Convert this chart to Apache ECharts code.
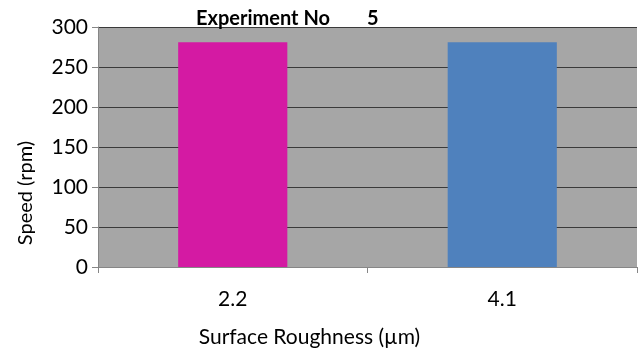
<!DOCTYPE html>
<html>
<head>
<meta charset="utf-8">
<script src="https://cdn.jsdelivr.net/npm/echarts@6/dist/echarts.min.js"></script>
<style>html,body{margin:0;padding:0;background:#fff}#c{width:641px;height:355px}</style>
</head>
<body>
<div id="c"></div>
<script>
const categories = ['2.2', '4.1'];
const speeds = [281, 281];
const barColors = ['#D41AA3', '#4F81BD'];
const yTicks = [0, 50, 100, 150, 200, 250, 300];
const titleParts = ['Experiment No', '5'];

const FONT = 'Lato, "Open Sans", sans-serif';
const chart = echarts.init(document.getElementById('c'), null, {renderer: 'canvas'});
chart.setOption({
  animation: false,
  backgroundColor: '#ffffff',
  title: [
    {text: titleParts[0], left: 191, top: 4,
     textStyle: {fontFamily: FONT, fontSize: 20, fontWeight: 'bold', color: '#000'}},
    {text: titleParts[1], left: 362, top: 4,
     textStyle: {fontFamily: FONT, fontSize: 20, fontWeight: 'bold', color: '#000'}}
  ],
  grid: {
    left: 98, right: 4, top: 27, bottom: 88,
    show: true, backgroundColor: '#A6A6A6', borderWidth: 0
  },
  xAxis: {
    type: 'category',
    data: categories,
    boundaryGap: true,
    name: 'Surface Roughness (µm)',
    nameLocation: 'middle',
    nameGap: 60,
    nameTextStyle: {fontFamily: FONT, fontSize: 21, color: '#000', padding: [0, 116, 0, 0]},
    axisLine: {show: true, lineStyle: {color: '#868686', width: 1}},
    axisTick: {show: true, length: 6, lineStyle: {color: '#868686'}},
    axisLabel: {fontFamily: FONT, fontSize: 21, color: '#000', margin: 22},
    splitLine: {show: false}
  },
  yAxis: {
    type: 'value',
    min: yTicks[0], max: yTicks[yTicks.length - 1], interval: 50,
    name: 'Speed (rpm)',
    nameLocation: 'middle',
    nameGap: 62,
    nameTextStyle: {fontFamily: FONT, fontSize: 20, color: '#000', padding: [0, 92, 0, 0]},
    axisLine: {show: true, lineStyle: {color: '#868686', width: 1}},
    axisTick: {show: true, length: 6, lineStyle: {color: '#868686'}},
    axisLabel: {fontFamily: FONT, fontSize: 21, color: '#000', margin: 10, padding: [8, 0, 0, 0]},
    splitLine: {show: true, lineStyle: {color: '#3a3a3a', width: 1.2}}
  },
  series: [{
    type: 'bar',
    data: speeds.map((v, i) => ({value: v, itemStyle: {color: barColors[i]}})),
    barWidth: '40.5%'
  }]
});
</script>
</body>
</html>
